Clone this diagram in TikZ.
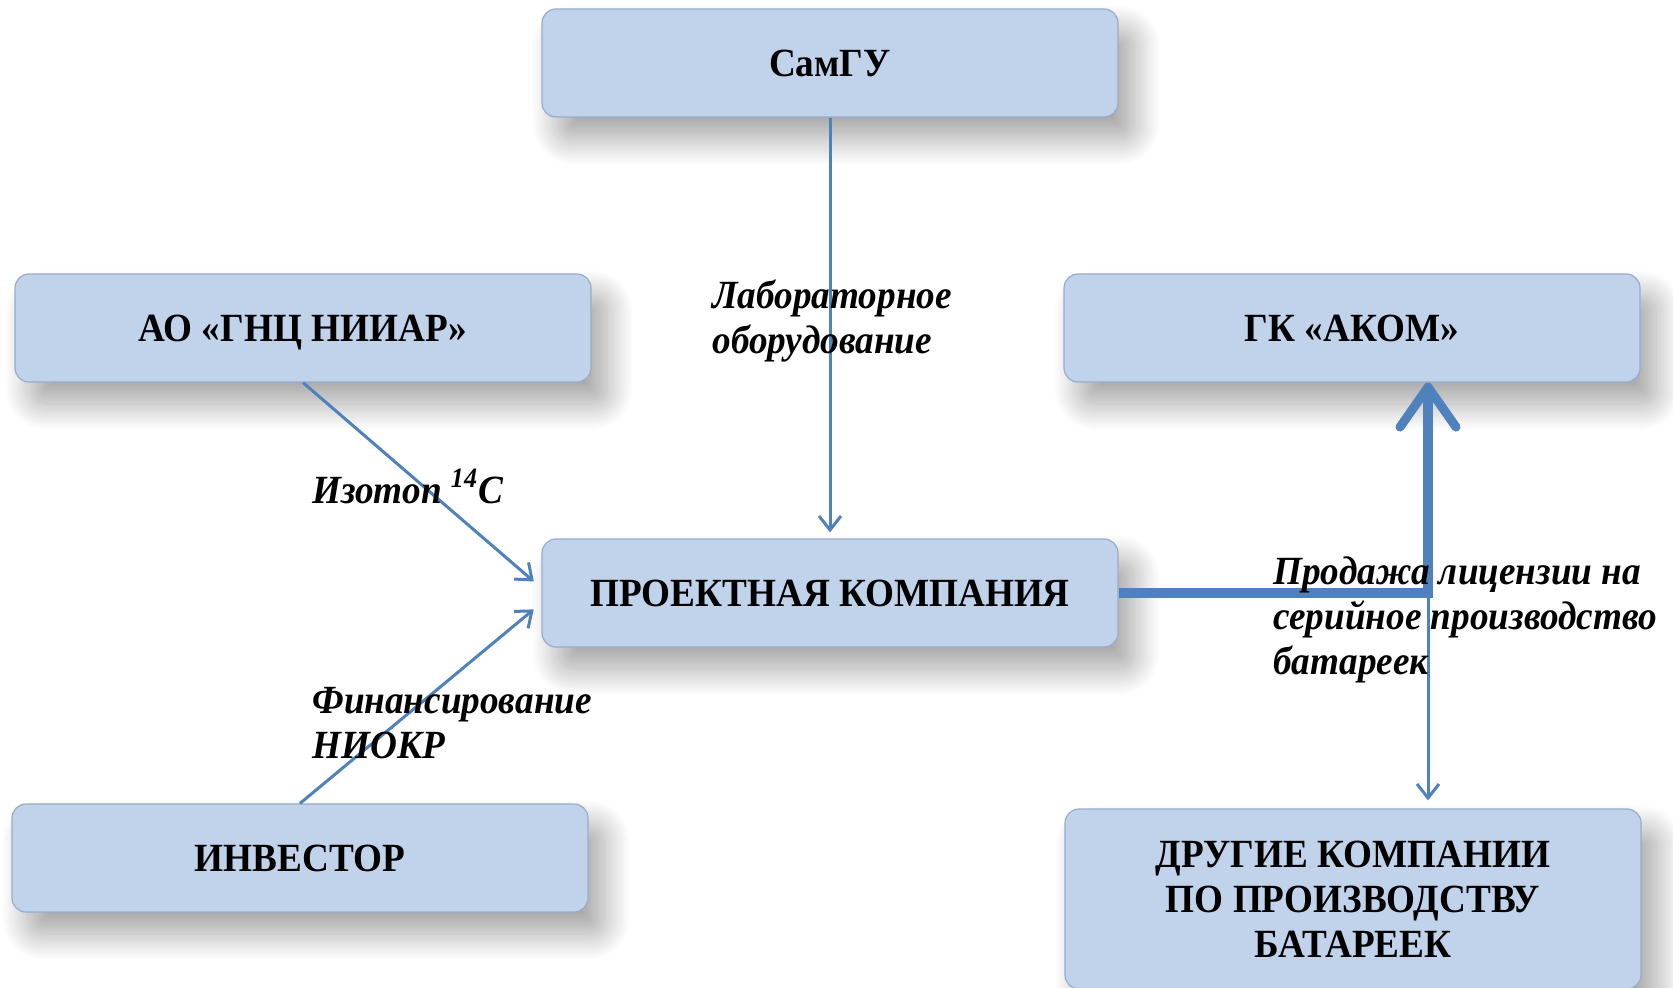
\documentclass[tikz,border=0pt]{standalone}
\usepackage{fontspec}
\setmainfont[FakeStretch=0.93]{Liberation Serif}
\usetikzlibrary{arrows.meta,shadows.blur}

\definecolor{boxfill}{RGB}{193,211,235}
\definecolor{boxline}{RGB}{150,172,205}
\definecolor{linkblue}{RGB}{79,129,189}

\tikzset{
  partner/.style={draw=boxline, line width=0.6pt, fill=boxfill, rounded corners=7pt,
    minimum width=288pt, minimum height=54pt, align=center, text depth=0pt,
    font=\fontsize{20}{22.5}\selectfont\bfseries,
    blur shadow={shadow xshift=8pt, shadow yshift=-11pt, shadow blur radius=13pt,
      shadow blur steps=25, shadow opacity=36}},
  flow/.style={linkblue, line width=1.5pt, -{Straight Barb[length=7pt, width=11pt, line width=1.5pt]}},
  mainflow/.style={linkblue, line width=5pt, -{Straight Barb[round, length=20pt, width=28pt, line width=4.5pt]}},
  note/.style={anchor=base west, align=left, inner sep=0pt,
    font=\fontsize{20}{22.5}\selectfont\bfseries\itshape}
}

\begin{document}
\begin{tikzpicture}[x=0.5pt, y=-0.5pt]
  \useasboundingbox (0,0) rectangle (1673,988);

  % boxes
  \node[partner] (samgu) at (830,63) {СамГУ};
  \node[partner] (niiar) at (303,328) {АО «ГНЦ НИИАР»};
  \node[partner] (akom) at (1352,328) {ГК «АКОМ»};
  \node[partner] (pk) at (830,593) {ПРОЕКТНАЯ КОМПАНИЯ};
  \node[partner] (invest) at (300,858) {ИНВЕСТОР};
  \node[partner, minimum height=90pt] (other) at (1353,899)
    {ДРУГИЕ КОМПАНИИ\\ПО ПРОИЗВОДСТВУ\\БАТАРЕЕК};

  % inflows
  \draw[flow, shorten >=3pt] (samgu.south) -- (pk.north);
  \draw[flow, shorten >=5pt] (niiar.south) -- ([yshift=2.5pt]pk.west);
  \draw[flow, shorten >=5pt] (invest.north) -- ([yshift=-5pt]pk.west);

  % licence sales
  \coordinate (split) at (1428,593);
  \draw[mainflow] (pk.east) -- (split) -- (split |- akom.south);
  \draw[flow, shorten >=4pt] (split) -- (split |- other.north);

  % labels (base = last line)
  \node[note] (lab) at (712,354) {Лабораторное\\оборудование};
  \node[note] (iso) at (312,503) {Изотоп \textsuperscript{14}C};
  \node[note] (fin) at (312,758) {Финансирование\\НИОКР};
  \node[note] (sale) at (1273,674) {Продажа лицензии на\\серийное производство\\батареек};
\end{tikzpicture}
\end{document}
